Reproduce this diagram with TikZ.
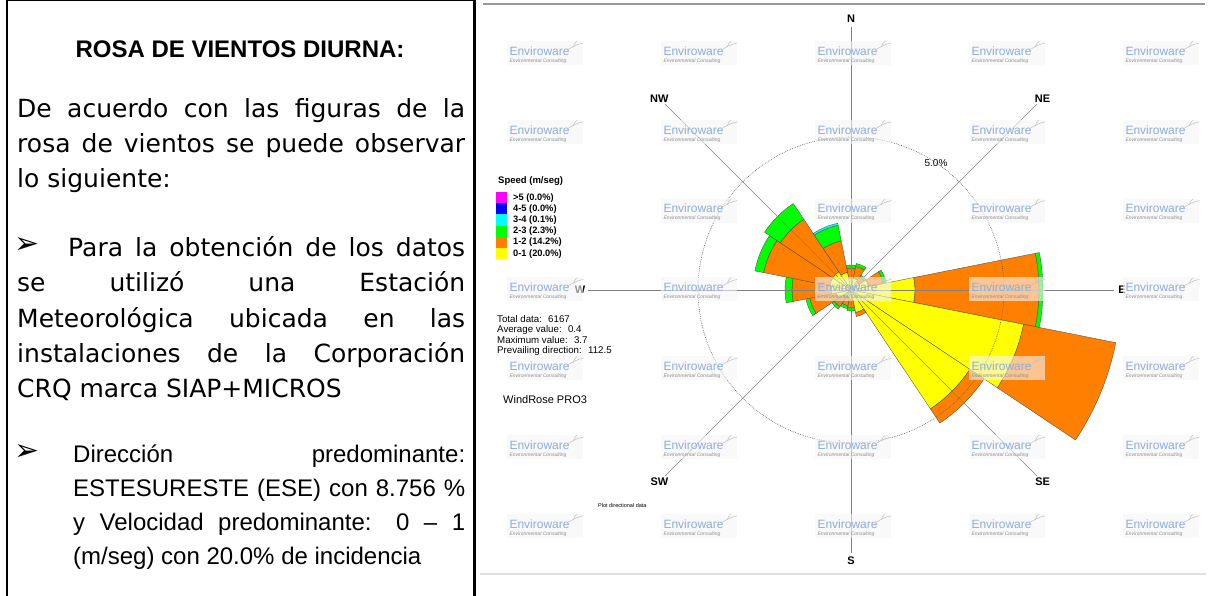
\documentclass[tikz,border=0pt]{standalone}
\usepackage{fontspec}
\setmainfont{Liberation Sans}
\newfontfamily\dvs{DejaVu Sans}
\usetikzlibrary{calc}
\definecolor{wsYellow}{RGB}{255,255,0}
\definecolor{wsOrange}{RGB}{255,128,0}
\definecolor{wsGreen}{RGB}{0,255,0}
\definecolor{wsCyan}{RGB}{0,255,255}
\definecolor{wsBlue}{RGB}{0,0,255}
\definecolor{wsMagenta}{RGB}{255,0,255}
\definecolor{wmBlue}{RGB}{140,172,220}
\newcommand{\rosepetal}[4]{%
  \pgfmathsetmacro{\pa}{#1-101.25}%
  \pgfmathsetmacro{\pb}{#1-78.75}%
  \filldraw[petal, fill=#4] ($(ctr)+(\pa:#2)$) arc[start angle=\pa, end angle=\pb, radius=#2] -- ($(ctr)+(\pb:#3)$) arc[start angle=\pb, end angle=\pa, radius=#3] -- cycle;}
\newcommand{\wmark}[2]{%
  \pgfmathsetmacro{\wx}{509.3+154*#1}%
  \pgfmathsetmacro{\wy}{51+78.8*#2}%
  \fill[white!96!black, fill opacity=0.6] (\wx-2,\wy-10) rectangle (\wx+74,\wy+14);
  \node[wmtext] (wm-#1-#2) at (\wx,\wy) {Enviroware};
  \node[wmsub] (ws-#1-#2) at (\wx,\wy+10) {Environmental Consulting};
  \draw[black!25, line width=0.5pt] (\wx+58,\wy-1) .. controls (\wx+63,\wy-4) and (\wx+68,\wy-7) .. (\wx+74,\wy-8);
  \draw[black!25, line width=0.5pt] (\wx+64,\wy-4) .. controls (\wx+65,\wy-7) .. (\wx+68,\wy-10);}
\begin{document}
\begin{tikzpicture}[x=1pt,y=-1pt,
  petal/.style={draw=black!70, line width=0.35pt},
  axisline/.style={draw=black!50, line width=0.6pt},
  compass/.style={font=\bfseries\fontsize{11}{12}\selectfont, inner sep=0},
  para/.style={inner sep=0, anchor=base west, font=\dvs\fontsize{25}{30}\selectfont},
  parb/.style={inner sep=0, anchor=base west, font=\fontsize{24}{28}\selectfont},
  bul/.style={inner sep=0, anchor=center, font=\dvs\fontsize{30}{34}\selectfont},
  wmtext/.style={inner sep=0, anchor=west, text=wmBlue, font=\fontsize{12}{12}\selectfont},
  wmsub/.style={inner sep=0, anchor=west, text=black!45, font=\itshape\fontsize{5}{5}\selectfont},
  stat/.style={inner sep=0, anchor=base west, font=\fontsize{9.7}{10}\selectfont},
  legtxt/.style={inner sep=0, anchor=west, font=\bfseries\fontsize{9.3}{10}\selectfont},
]
\useasboundingbox (0,0) rectangle (1213,596);
\fill[white] (0,0) rectangle (1213,596);

% ---------- left text cell ----------
\draw[line width=2pt] (7,0) -- (7,596);
\draw[line width=2.2pt] (474.5,0) -- (474.5,596);
\draw[line width=1.2pt] (7,0.6) -- (474.5,0.6);

\node[inner sep=0, anchor=base, font=\bfseries\fontsize{24}{28}\selectfont] (title) at (240,58) {ROSA DE VIENTOS DIURNA:};

\node[para] (l1) at (17,118) {\makebox[448pt][s]{De acuerdo con las figuras de la}};
\node[para] (l2) at (17,153) {\makebox[448pt][s]{rosa de vientos se puede observar}};
\node[para] (l3) at (17,188) {lo siguiente:};

\node[bul] (b1) at (27.5,246) {➢};
\node[para] (l4) at (68,257) {\makebox[397pt][s]{Para la obtención de los datos}};
\node[para] (l5) at (17,291) {\makebox[448pt][s]{se utilizó una Estación}};
\node[para] (l6) at (17,327) {\makebox[448pt][s]{Meteorológica ubicada en las}};
\node[para] (l7) at (17,362) {\makebox[448pt][s]{instalaciones de la Corporación}};
\node[para] (l8) at (17,397) {CRQ marca SIAP+MICROS};

\node[bul] (b2) at (27.5,452.5) {➢};
\node[parb] (m1) at (73,462) {\makebox[392pt][s]{Dirección predominante:}};
\node[parb] (m2) at (73,496) {\makebox[392pt][s]{ESTESURESTE (ESE) con 8.756 \%}};
\node[parb] (m3) at (73,530) {\makebox[392pt][s]{y Velocidad predominante: 0 – 1}};
\node[parb] (m4) at (73,564) {(m/seg) con 20.0\% de incidencia};

% ---------- right panel frame ----------
\draw[line width=2pt, draw=black!40] (483,3.8) -- (1205,3.8);
\draw[line width=1.2pt, draw=black!12] (480,574) -- (1206,574);

% ---------- wind rose ----------
\coordinate (ctr) at (851,290);

% N
\rosepetal{0}{0.01}{12}{wsYellow}\rosepetal{0}{12}{22}{wsOrange}\rosepetal{0}{22}{25}{wsGreen}
% NNE
\rosepetal{22.5}{0.01}{12}{wsYellow}\rosepetal{22.5}{12}{24}{wsOrange}\rosepetal{22.5}{24}{27}{wsGreen}
% NE
\rosepetal{45}{0.01}{10}{wsYellow}\rosepetal{45}{10}{16}{wsOrange}\rosepetal{45}{16}{18}{wsGreen}
% ENE
\rosepetal{67.5}{0.01}{18}{wsYellow}\rosepetal{67.5}{18}{33}{wsOrange}\rosepetal{67.5}{33}{36}{wsGreen}
% E
\rosepetal{90}{0.01}{64}{wsYellow}\rosepetal{90}{64}{188}{wsOrange}\rosepetal{90}{188}{192}{wsGreen}
% ESE
\rosepetal{112.5}{0.01}{176}{wsYellow}\rosepetal{112.5}{176}{270}{wsOrange}
% SE
\rosepetal{135}{0.01}{143}{wsYellow}\rosepetal{135}{143}{160}{wsOrange}
% SSE
\rosepetal{157.5}{0.01}{23}{wsYellow}\rosepetal{157.5}{23}{27}{wsOrange}
% S
\rosepetal{180}{0.01}{10}{wsYellow}\rosepetal{180}{10}{18}{wsOrange}\rosepetal{180}{18}{21}{wsGreen}
% SSW
\rosepetal{202.5}{0.01}{8}{wsYellow}\rosepetal{202.5}{8}{16}{wsOrange}\rosepetal{202.5}{16}{19}{wsGreen}
% SW
\rosepetal{225}{0.01}{8}{wsYellow}\rosepetal{225}{8}{20}{wsOrange}\rosepetal{225}{20}{23}{wsGreen}
% WSW
\rosepetal{247.5}{0.01}{15}{wsYellow}\rosepetal{247.5}{15}{42}{wsOrange}\rosepetal{247.5}{42}{46}{wsGreen}
% W
\rosepetal{270}{0.01}{20}{wsYellow}\rosepetal{270}{20}{59}{wsOrange}\rosepetal{270}{59}{66}{wsGreen}
% WNW
\rosepetal{292.5}{0.01}{22}{wsYellow}\rosepetal{292.5}{22}{89}{wsOrange}\rosepetal{292.5}{89}{98}{wsGreen}
% NW
\rosepetal{315}{0.01}{22}{wsYellow}\rosepetal{315}{22}{85}{wsOrange}\rosepetal{315}{85}{104}{wsGreen}
% NNW
\rosepetal{337.5}{0.01}{18}{wsYellow}\rosepetal{337.5}{18}{50}{wsOrange}\rosepetal{337.5}{50}{66}{wsGreen}\rosepetal{337.5}{66}{68}{wsCyan}

% axes
\foreach \nm/\ang in {N/-90,NE/-45,E/0,SE/45,S/90,SW/135,W/180,NW/225}{
  \coordinate (ax\nm) at ($(ctr)+(\ang:263)$);
  \draw[axisline] (ctr) -- (ax\nm);
  \node[compass] (lbl\nm) at ($(ctr)+(\ang:271)$) {\nm};
}
\draw[draw=black!65, line width=0.6pt, dash pattern=on 0.7pt off 1.1pt] (ctr) circle[radius=153];
\node[inner sep=0.5pt, font=\fontsize{10}{11}\selectfont] (pct) at (936,163) {5.0\%};

% ---------- watermarks ----------
\foreach \j in {0,1,3,4,5,6}{\wmark{0}{\j}}
\foreach \i in {1,...,4}{
  \foreach \j in {0,...,6}{\wmark{\i}{\j}}
}

% ---------- legend ----------
\node[inner sep=0, anchor=base west, font=\bfseries\fontsize{9.5}{10}\selectfont] (legtitle) at (498,183.5) {Speed (m/seg)};
\foreach \k/\col/\txt in {0/wsMagenta/{>5 (0.0\%)},1/wsBlue/{4-5 (0.0\%)},2/wsCyan/{3-4 (0.1\%)},3/wsGreen/{2-3 (2.3\%)},4/wsOrange/{1-2 (14.2\%)},5/wsYellow/{0-1 (20.0\%)}}{
  \fill[\col] (496,192+11.2*\k) rectangle (507,203.2+11.2*\k);
  \node[legtxt] (leg\k) at (513,197.6+11.2*\k) {\txt};
}

% ---------- stats ----------
\node[stat] (st1) at (497,322) {Total data:~ 6167};
\node[stat] (st2) at (497,332.5) {Average value:~ 0.4};
\node[stat] (st3) at (497,343) {Maximum value:~ 3.7};
\node[stat] (st4) at (497,353.5) {Prevailing direction:~ 112.5};
\node[inner sep=0, anchor=base west, font=\fontsize{11}{12}\selectfont] (prog) at (503,403) {WindRose PRO3};
\node[inner sep=0, anchor=base west, font=\fontsize{5.5}{6}\selectfont] (plotdir) at (598,507) {Plot directional data};
\end{tikzpicture}
\end{document}
